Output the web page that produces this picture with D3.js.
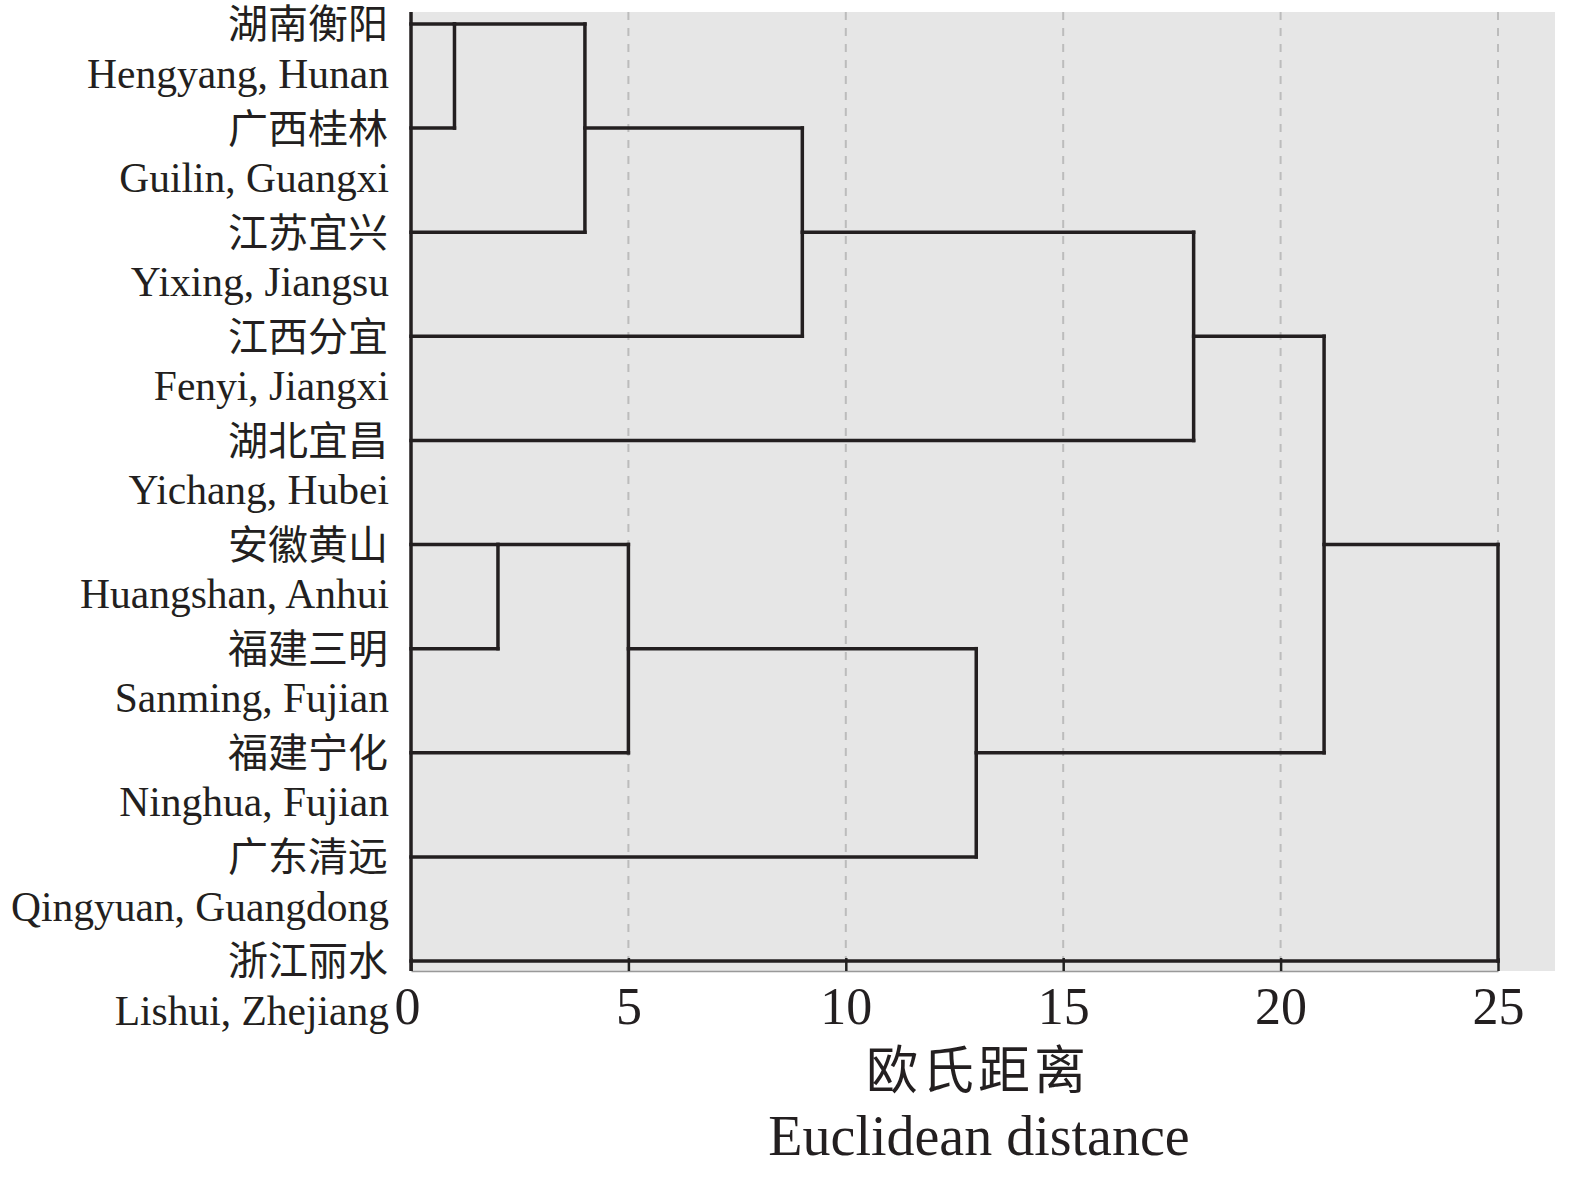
<!DOCTYPE html>
<html><head><meta charset="utf-8">
<script src="https://cdn.jsdelivr.net/npm/d3@7/dist/d3.min.js"></script>
<style>body{margin:0;background:#fff}svg{display:block}</style>
</head><body>
<script>
const labelsZh = ["湖南衡阳","广西桂林","江苏宜兴","江西分宜","湖北宜昌","安徽黄山","福建三明","福建宁化","广东清远","浙江丽水"];
const labelsEn = ["Hengyang, Hunan","Guilin, Guangxi","Yixing, Jiangsu","Fenyi, Jiangxi","Yichang, Hubei","Huangshan, Anhui","Sanming, Fujian","Ninghua, Fujian","Qingyuan, Guangdong","Lishui, Zhejiang"];
// merges: [childA, childB, distance]; leaves 0-9, clusters numbered from 10
const mergeA = [0, 10, 11, 12, 5, 14, 15, 13, 17];
const mergeB = [1, 2, 3, 4, 6, 7, 8, 16, 9];
const mergeDist = [1, 4, 9, 18, 2, 5, 13, 21, 25];
const ticks = [0, 5, 10, 15, 20, 25];

const W = 1575, H = 1181;
const svg = d3.select("body").append("svg").attr("width", W).attr("height", H);
const x = d3.scaleLinear().domain([0, 25]).range([411, 1498]);
const y = d3.scaleLinear().domain([0, 9]).range([24, 961]);
const plotTop = 12, plotBottom = 971, plotRight = 1555;
const serif = "'Liberation Serif','Times New Roman','Noto Sans CJK SC',serif";

svg.append("rect").attr("x", x(0)).attr("y", plotTop).attr("width", plotRight - x(0)).attr("height", plotBottom - plotTop).attr("fill", "#e6e6e6");

// grid
svg.append("g").selectAll("line").data(ticks.filter(t => t > 0)).join("line")
  .attr("x1", d => x(d)).attr("x2", d => x(d)).attr("y1", plotTop).attr("y2", y(9))
  .attr("stroke", "#bcbcbc").attr("stroke-width", 2).attr("stroke-dasharray", "8,8");

// bottom axis
const axis = d3.axisBottom(x).tickValues(ticks).tickSizeInner(-13).tickSizeOuter(0).tickPadding(43);
const gAx = svg.append("g").attr("transform", `translate(0,${plotBottom})`).call(axis);
gAx.select(".domain").attr("stroke", "#999").attr("stroke-width", 1.5);
gAx.selectAll(".tick line").attr("stroke", "#222").attr("stroke-width", 2.5);
gAx.selectAll(".tick text").attr("font-family", serif).attr("font-size", 52).attr("fill", "#231f20").attr("dy", "0.2em")
  .attr("dx", d => d === 0 ? -4 : 0);

// dendrogram
const nodes = [];
labelsZh.forEach((_, i) => nodes.push({row: i, h: 0}));
const segs = [];
mergeA.forEach((a, i) => {
  const b = mergeB[i], h = mergeDist[i];
  const na = nodes[a], nb = nodes[b];
  segs.push([na.h, na.row, h, na.row]);
  segs.push([nb.h, nb.row, h, nb.row]);
  segs.push([h, na.row, h, nb.row]);
  nodes.push({row: Math.floor((na.row + nb.row) / 2), h: h});
});
svg.append("g").selectAll("line").data(segs).join("line")
  .attr("x1", d => x(d[0])).attr("y1", d => y(d[1])).attr("x2", d => x(d[2])).attr("y2", d => y(d[3]))
  .attr("stroke", "#231f20").attr("stroke-width", 3.5).attr("stroke-linecap", "square");

// left edge line
svg.append("line").attr("x1", x(0)).attr("x2", x(0)).attr("y1", plotTop).attr("y2", plotBottom)
  .attr("stroke", "#231f20").attr("stroke-width", 3.5);

// labels
const gl = svg.append("g").attr("font-family", serif).attr("fill", "#231f20").attr("text-anchor", "end");
gl.selectAll("text.zh").data(labelsZh).join("text").attr("class", "zh")
  .attr("x", 388).attr("y", (d, i) => y(i)).attr("dy", "0.36em").attr("font-size", 40).text(d => d);
gl.selectAll("text.en").data(labelsEn).join("text").attr("class", "en")
  .attr("x", 389).attr("y", (d, i) => y(i) + 50).attr("dy", "0.33em").attr("font-size", 41.5).text(d => d);

// axis title
svg.append("text").attr("x", 978).attr("y", 1070).attr("dy", "0.36em").attr("text-anchor", "middle")
  .attr("font-family", serif).attr("font-size", 52).attr("letter-spacing", 4).attr("fill", "#231f20").text("欧氏距离");
svg.append("text").attr("x", 979).attr("y", 1137).attr("dy", "0.33em").attr("text-anchor", "middle")
  .attr("font-family", serif).attr("font-size", 56).attr("fill", "#231f20").text("Euclidean distance");
</script>
</body></html>
